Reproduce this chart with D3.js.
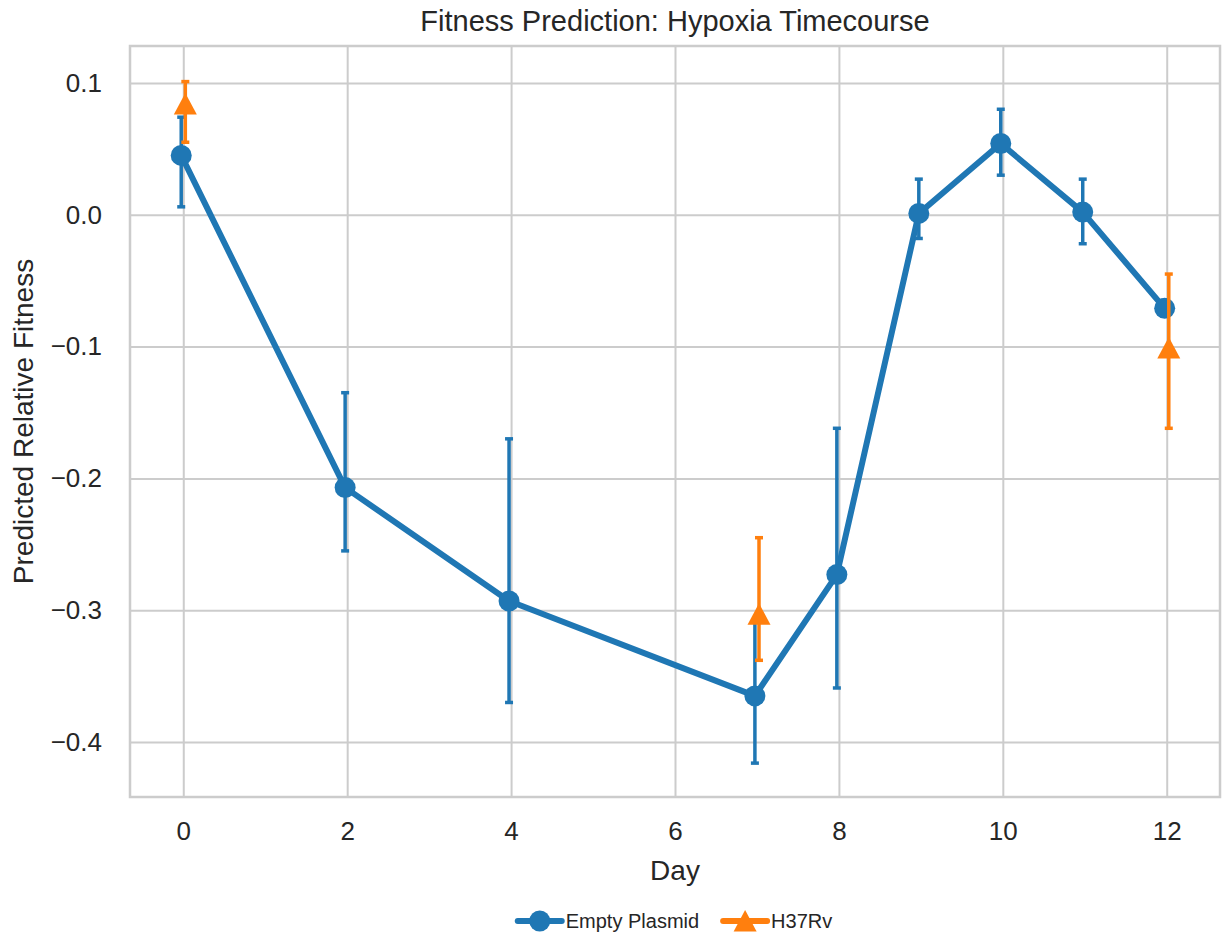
<!DOCTYPE html>
<html>
<head>
<meta charset="utf-8">
<script src="https://cdn.jsdelivr.net/npm/d3@7"></script>
<style>
  body {
    margin: 0;
    background: #fff;
  }
  svg text {
    font-family: "Liberation Sans", Arial, sans-serif;
    fill: #262626;
  }
</style>
</head>
<body>
<svg id="chart" width="1224" height="936"></svg>
<script>
// Empty Plasmid series
const days = [0, 2, 4, 7, 8, 9, 10, 11, 12];
const emptyMean = [0.045, -0.207, -0.293, -0.365, -0.273, 0.001, 0.054, 0.002, -0.071];
const emptyLow = [0.006, -0.255, -0.370, -0.416, -0.359, -0.018, 0.030, -0.022, -0.077];
const emptyHigh = [0.074, -0.135, -0.170, -0.309, -0.162, 0.027, 0.080, 0.027, -0.065];

// H37Rv series
const h37Days = [0, 7, 12];
const h37Mean = [0.084, -0.303, -0.101];
const h37Low = [0.055, -0.338, -0.162];
const h37High = [0.101, -0.245, -0.045];

const xTicks = [0, 2, 4, 6, 8, 10, 12];
const yTicks = [0.1, 0.0, -0.1, -0.2, -0.3, -0.4];

const series = [
  {name: 'Empty Plasmid', color: '#1f77b4', shape: 'circle', dodge: -0.025,
    pts: days.map((d, i) => ({day: d, mean: emptyMean[i], lo: emptyLow[i], hi: emptyHigh[i]}))},
  {name: 'H37Rv', color: '#ff7f0e', shape: 'triangle', dodge: 0.025,
    pts: h37Days.map((d, i) => ({day: d, mean: h37Mean[i], lo: h37Low[i], hi: h37High[i]}))},
];

const box = {left: 130, right: 1220, top: 46, bottom: 797};
const grey = '#cccccc';

const x = d3.scaleLinear().domain([-0.65, 12.65]).range([box.left, box.right]);
const y = d3.scaleLinear().domain([-0.4417, 0.128]).range([box.bottom, box.top]);

const svg = d3.select('#chart');

// grid + tick labels
svg.append('g')
  .attr('transform', `translate(0,${box.bottom})`)
  .call(d3.axisBottom(x).tickValues(xTicks).tickSize(-(box.bottom - box.top)).tickFormat(d3.format('d')).tickPadding(25))
  .call(g => g.select('.domain').remove())
  .call(g => g.selectAll('line').attr('stroke', grey).attr('stroke-width', 2))
  .call(g => g.selectAll('text').attr('font-size', 26).attr('fill', '#262626').attr('font-family', null))
  ;
svg.append('g')
  .attr('transform', `translate(${box.left},0)`)
  .call(d3.axisLeft(y).tickValues(yTicks).tickSize(-(box.right - box.left)).tickPadding(28)
    .tickFormat(d => d3.format('.1f')(d).replace('-', '\u2212')))
  .call(g => g.select('.domain').remove())
  .call(g => g.selectAll('line').attr('stroke', grey).attr('stroke-width', 2))
  .call(g => g.selectAll('text').attr('font-size', 26).attr('fill', '#262626').attr('font-family', null))
  ;

// frame
svg.append('rect')
  .attr('x', box.left)
  .attr('y', box.top)
  .attr('width', box.right - box.left)
  .attr('height', box.bottom - box.top)
  .attr('fill', 'none')
  .attr('stroke', grey)
  .attr('stroke-width', 2.5)
  ;

function marker(sel, s) {
  if (s.shape === 'circle') {
    sel.append('circle').attr('r', 10.5).attr('fill', s.color);
  } else {
    sel.append('path').attr('d', 'M0,-11L11.5,10.5L-11.5,10.5Z').attr('fill', s.color);
  }
}

series.forEach(s => {
  const g = svg.append('g');
  const px = d => x(d.day + s.dodge);

  // only the day series is joined by a line
  if (s.shape === 'circle') {
    g.append('path')
      .datum(s.pts)
      .attr('fill', 'none')
      .attr('stroke', s.color)
      .attr('stroke-width', 6)
      .attr('stroke-linejoin', 'round')
      .attr('d', d3.line().x(px).y(d => y(d.mean)))
      ;
  }

  const err = g.selectAll('g.err')
    .data(s.pts)
    .enter().append('g')
      .attr('class', 'err')
    ;
  err.append('line')
    .attr('x1', px).attr('x2', px)
    .attr('y1', d => y(d.lo)).attr('y2', d => y(d.hi))
    .attr('stroke', s.color)
    .attr('stroke-width', 3.5)
    ;
  ['lo', 'hi'].forEach(k => {
    err.append('line')
      .attr('x1', d => px(d) - 4).attr('x2', d => px(d) + 4)
      .attr('y1', d => y(d[k])).attr('y2', d => y(d[k]))
      .attr('stroke', s.color)
      .attr('stroke-width', 3.5)
      ;
  });

  g.selectAll('g.pt')
    .data(s.pts)
    .enter().append('g')
      .attr('class', 'pt')
      .attr('transform', d => `translate(${px(d)},${y(d.mean)})`)
      .each(function () { marker(d3.select(this), s); })
    ;
});

// title and labels
const midX = (box.left + box.right) / 2;
svg.append('text')
  .attr('x', midX).attr('y', 31)
  .attr('text-anchor', 'middle')
  .attr('font-size', 29)
  .text('Fitness Prediction: Hypoxia Timecourse');
svg.append('text')
  .attr('x', midX).attr('y', 880)
  .attr('text-anchor', 'middle')
  .attr('font-size', 28)
  .text('Day');
svg.append('text')
  .attr('transform', `translate(33,${(box.top + box.bottom) / 2}) rotate(-90)`)
  .attr('text-anchor', 'middle')
  .attr('font-size', 28)
  .text('Predicted Relative Fitness');

// legend
const legend = svg.append('g');
let lx = 0;
series.forEach(s => {
  const item = legend.append('g').attr('transform', `translate(${lx},0)`);
  item.append('line')
    .attr('x1', 0).attr('x2', 44)
    .attr('stroke', s.color)
    .attr('stroke-width', 6)
    .attr('stroke-linecap', 'round')
    ;
  marker(item.append('g').attr('transform', 'translate(22,0)'), s);
  const t = item.append('text')
    .attr('x', 48).attr('y', 7)
    .attr('font-size', 20)
    .text(s.name);
  lx += 48 + t.node().getComputedTextLength() + 24;
});
const lb = legend.node().getBBox();
legend.attr('transform', `translate(${midX - lb.width / 2},921)`);
</script>
</body>
</html>
